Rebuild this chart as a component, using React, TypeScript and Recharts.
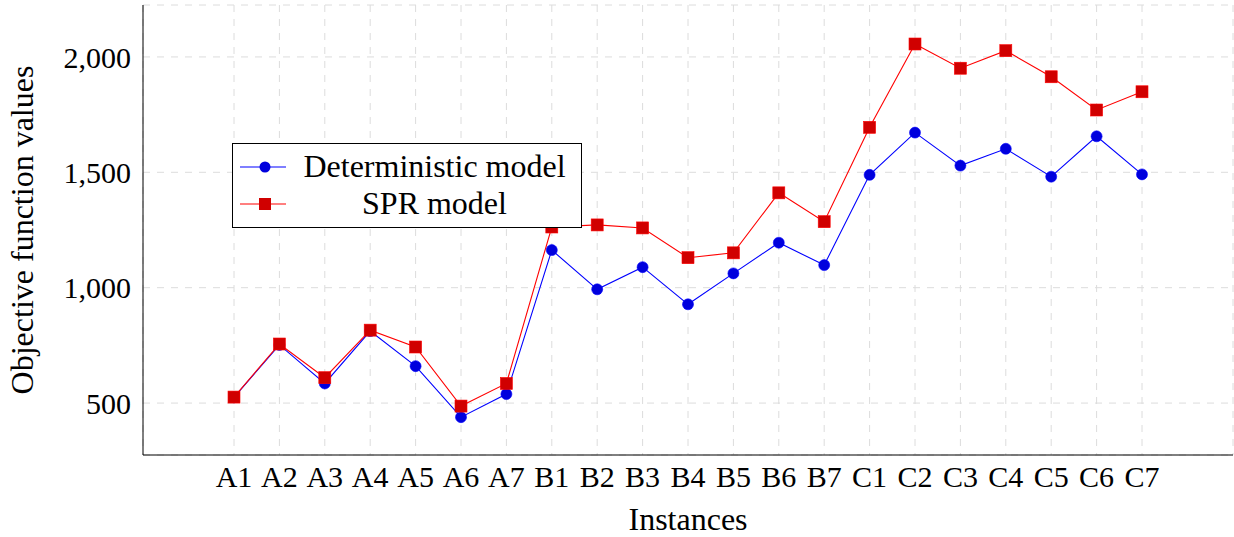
import React from "react";
import {
  LineChart,
  Line,
  XAxis,
  YAxis,
  CartesianGrid,
} from "recharts";

// Instances on the x axis
const instances = [
  "A1", "A2", "A3", "A4", "A5", "A6", "A7",
  "B1", "B2", "B3", "B4", "B5", "B6", "B7",
  "C1", "C2", "C3", "C4", "C5", "C6", "C7",
];

// Objective values
const deterministic = [
  525, 752, 585, 812, 660, 439, 539,
  1163, 993, 1089, 928, 1062, 1195, 1098,
  1489, 1672, 1529, 1602, 1481, 1656, 1491,
];
const spr = [
  526, 756, 610, 816, 743, 487, 585,
  1263, 1272, 1259, 1130, 1151, 1411, 1286,
  1695, 2056, 1951, 2027, 1914, 1770, 1849,
];

const yTicks = [500, 1000, 1500, 2000];
const seriesNames = ["Deterministic model", "SPR model"];

const data = instances.map((name, i) => ({
  name,
  det: deterministic[i],
  spr: spr[i],
}));

const FONT = "'Liberation Serif', 'Times New Roman', serif";
const BLUE_LINE = "#0000ff";
const BLUE_MARK = "#0000dd";
const RED_LINE = "#ff0000";
const RED_MARK = "#d00000";

const SquareDot = (props: any) => {
  const { cx, cy } = props;
  if (cx == null || cy == null) return null;
  return <rect x={cx - 6} y={cy - 6} width={12} height={12} fill={RED_MARK} stroke={RED_LINE} strokeWidth={0.6} />;
};

const CircleDot = (props: any) => {
  const { cx, cy } = props;
  if (cx == null || cy == null) return null;
  return <circle cx={cx} cy={cy} r={5.5} fill={BLUE_MARK} stroke={BLUE_LINE} strokeWidth={0.6} />;
};

const App: React.FC = () => {
  return (
    <div style={{ position: "absolute", left: 0, top: 0, width: 1234, height: 537, background: "#fff", fontFamily: FONT }}>
      <LineChart
        width={1234}
        height={537}
        data={data}
        margin={{ top: 5, right: 1, bottom: 0, left: 0 }}
      >
        <CartesianGrid stroke="#dcdcdc" strokeDasharray="7 7" />
        <XAxis
          dataKey="name"
          height={82}
          padding={{ left: 91, right: 91 }}
          stroke="#000"
          tickLine={false}
          tickSize={0}
          tickMargin={11}
          tick={{ fill: "#000", fontSize: 30, fontFamily: FONT }}
          interval={0}
          label={{ value: "Instances", position: "insideBottom", offset: 7, fill: "#000", fontSize: 32, fontFamily: FONT }}
        />
        <XAxis xAxisId="top" dataKey="name" orientation="top" height={0} stroke="#000" tick={false} tickLine={false} />
        <YAxis
          width={143}
          domain={[275, 2225]}
          ticks={yTicks}
          stroke="#000"
          tickLine={false}
          tickSize={0}
          tickMargin={12}
          tickFormatter={(v: number) => v.toLocaleString("en-US")}
          tick={{ fill: "#000", fontSize: 30, fontFamily: FONT }}
          label={{ value: "Objective function values", angle: -90, position: "insideLeft", offset: 22, style: { textAnchor: "middle" }, fill: "#000", fontSize: 32, fontFamily: FONT }}
        />
        <YAxis yAxisId="right" orientation="right" width={0} domain={[275, 2225]} stroke="#000" tick={false} tickLine={false} />
        <Line
          dataKey="det"
          name={seriesNames[0]}
          stroke={BLUE_LINE}
          strokeWidth={1.1}
          dot={<CircleDot />}
          isAnimationActive={false}
        />
        <Line
          dataKey="spr"
          name={seriesNames[1]}
          stroke={RED_LINE}
          strokeWidth={1.1}
          dot={<SquareDot />}
          isAnimationActive={false}
        />
      </LineChart>

      {/* legend box */}
      <div
        style={{
          position: "absolute",
          left: 232,
          top: 143,
          width: 350,
          height: 85,
          border: "1px solid #000",
          background: "#fff",
          boxSizing: "border-box",
          fontSize: 32,
          color: "#000",
        }}
      >
        {seriesNames.map((s, i) => (
          <div key={s} style={{ display: "flex", alignItems: "center", height: 37, marginTop: i === 0 ? 4 : 0 }}>
            <svg width={48} height={20} style={{ marginLeft: 7, flex: "none" }}>
              <line x1={0} y1={10} x2={46} y2={10} stroke={i === 0 ? BLUE_LINE : RED_LINE} strokeWidth={1.1} />
              {i === 0 ? (
                <circle cx={25} cy={10} r={5.5} fill={BLUE_MARK} />
              ) : (
                <rect x={19} y={4} width={12} height={12} fill={RED_MARK} />
              )}
            </svg>
            <span style={{ flex: 1, textAlign: "center", whiteSpace: "nowrap", lineHeight: "37px" }}>{s}</span>
          </div>
        ))}
      </div>
    </div>
  );
};

export default App;
